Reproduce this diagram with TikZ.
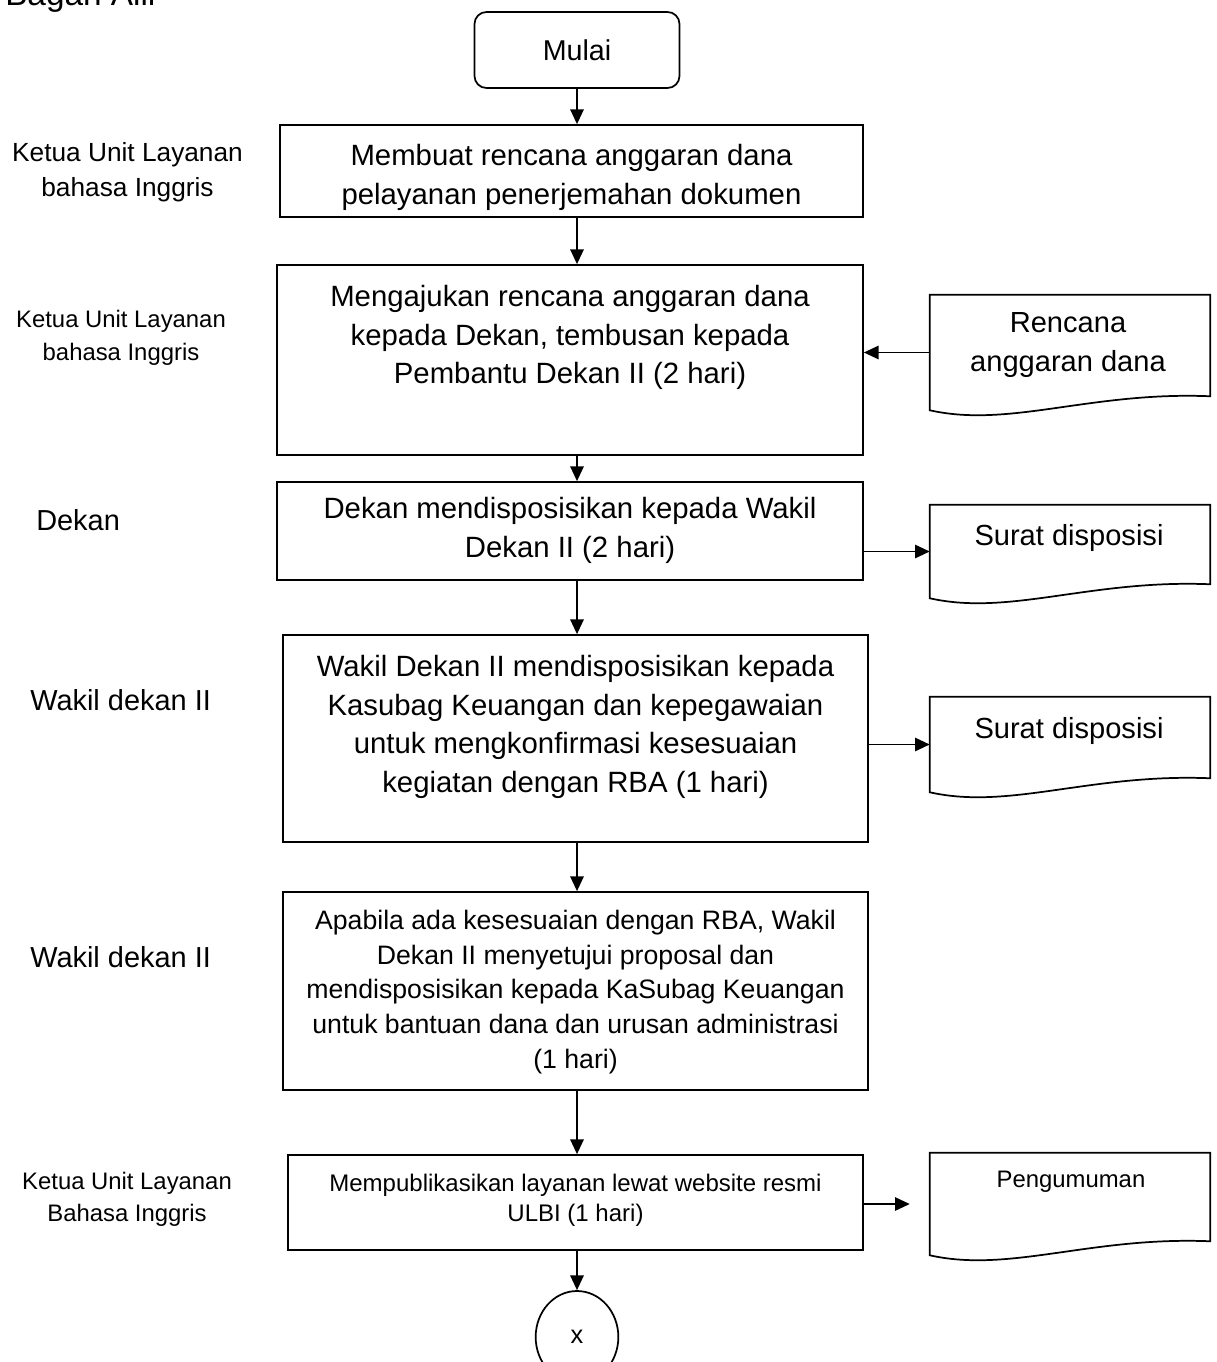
\documentclass[tikz,border=0pt]{standalone}
\usepackage{fontspec}
\setmainfont{Liberation Sans}
\usetikzlibrary{%
  arrows.meta,%
  calc,%
  fit,% boxes from corner points
  shapes.geometric% ellipse
}
\newcommand{\fsz}[2]{\fontsize{#1}{#2}\selectfont}
% document symbol drawn round a fit node
\newcommand{\docshape}[1]{%
  \draw[line width=1.3pt] (#1.south west) -- (#1.north west) -- (#1.north east)
    -- ($(#1.south east)+(0,-14)$)
    .. controls ($(#1.south east)+(-120,-19)$) and ($(#1.south west)+(80,18)$) .. (#1.south west)
    -- cycle;}

\begin{document}
\begin{tikzpicture}[x=0.75pt,y=-0.75pt,
    stepbox/.style={draw,line width=1.3pt,inner sep=0pt},
    startbox/.style={draw,line width=1.3pt,rounded corners=9pt,inner sep=0pt,
      minimum width=153.75pt,minimum height=57pt,font=\fsz{21.5}{26}},
    endmark/.style={draw,ellipse,line width=1.3pt,inner sep=0pt,
      minimum width=62pt,minimum height=69pt,font=\fsz{19}{23}},
    docnode/.style={inner sep=0pt},
    boxtext/.style={align=center,inner sep=0pt,anchor=north,font=\fsz{22}{29}},
    doctext/.style={align=center,inner sep=0pt,anchor=north,font=\fsz{21.8}{29.25}},
    role/.style={align=center,inner sep=0pt,anchor=north,font=\fsz{17.9}{24.75}},
    rolebig/.style={inner sep=0pt,anchor=north west,font=\fsz{21.7}{26}},
    flow/.style={-{Triangle[length=11pt,width=10pt]},line width=1.3pt}]
    \useasboundingbox (0,0) rectangle (1216,1362);

    %title, cut at the top
    \node[inner sep=0pt,anchor=base west,font=\fsz{25}{30}] (title) at (5,6) {Bagan Alir};

    %start
    \node[startbox] (mulai) at (577,50) {Mulai};

    %steps
    \node[stepbox,fit={(280,125) (863,217)}] (b1) {};
    \node[boxtext] (t1) at (571.5,144) {Membuat rencana anggaran dana\\pelayanan penerjemahan dokumen};

    \node[stepbox,fit={(277,265) (863,455)}] (b2) {};
    \node[boxtext] (t2) at (570,285) {Mengajukan rencana anggaran dana\\kepada Dekan, tembusan kepada\\Pembantu Dekan II (2 hari)};

    \node[stepbox,fit={(277,482) (863,580)}] (b3) {};
    \node[boxtext] (t3) at (570,497) {Dekan mendisposisikan kepada Wakil\\Dekan II (2 hari)};

    \node[stepbox,fit={(283,635) (868,842)}] (b4) {};
    \node[boxtext] (t4) at (575.5,655) {Wakil Dekan II mendisposisikan kepada\\Kasubag Keuangan dan kepegawaian\\untuk mengkonfirmasi kesesuaian\\kegiatan dengan RBA (1 hari)};

    \node[stepbox,fit={(283,892) (868,1090)}] (b5) {};
    \node[boxtext,font=\fsz{20}{26}] (t5) at (575.5,910) {Apabila ada kesesuaian dengan RBA, Wakil\\Dekan II menyetujui proposal dan\\mendisposisikan kepada KaSubag Keuangan\\untuk bantuan dana dan urusan administrasi\\(1 hari)};

    \node[stepbox,fit={(288,1155) (863,1250)}] (b6) {};
    \node[boxtext,font=\fsz{18}{22.5}] (t6) at (575.5,1174) {Mempublikasikan layanan lewat website resmi\\ULBI (1 hari)};

    %connector to next page
    \node[endmark] (xend) at (577,1337) {x};

    %documents
    \node[docnode,fit={(930,295) (1210,410)}] (d1) {};
    \docshape{d1}
    \node[doctext] (dt1) at (1068,312.5) {Rencana\\anggaran dana};

    \node[docnode,fit={(930,505) (1210,598)}] (d2) {};
    \docshape{d2}
    \node[doctext] (dt2) at (1069,524.5) {Surat disposisi};

    \node[docnode,fit={(930,697) (1210,792)}] (d3) {};
    \docshape{d3}
    \node[doctext] (dt3) at (1069,717.5) {Surat disposisi};

    \node[docnode,fit={(930,1153) (1210,1255)}] (d4) {};
    \docshape{d4}
    \node[doctext,font=\fsz{17.9}{22}] (dt4) at (1071,1171) {Pengumuman};

    %roles
    \node[role,font=\fsz{19.7}{26.25}] (lab1) at (127.5,142.5) {Ketua Unit Layanan\\bahasa Inggris};
    \node[role] (lab2) at (121,309.5) {Ketua Unit Layanan\\bahasa Inggris};
    \node[rolebig] (lab3) at (36,509.5) {Dekan};
    \node[rolebig] (lab4) at (30,689.5) {Wakil dekan II};
    \node[rolebig] (lab5) at (30,946.5) {Wakil dekan II};
    \node[role,font=\fsz{17.9}{24}] (lab6) at (127,1172) {Ketua Unit Layanan\\Bahasa Inggris};

    %main flow
    \draw[flow] (mulai.south) -- (mulai.south |- b1.north);
    \draw[flow] (b1.south -| mulai) -- (b2.north -| mulai);
    \draw[flow] (b2.south -| mulai) -- (b3.north -| mulai);
    \draw[flow] (b3.south -| mulai) -- (b4.north -| mulai);
    \draw[flow] (b4.south -| mulai) -- (b5.north -| mulai);
    \draw[flow] (b5.south -| mulai) -- (b6.north -| mulai);
    \draw[flow] (b6.south -| xend) -- (xend.north);

    %documents in and out
    \draw[flow] (d1.west) -- (d1.west -| b2.east);
    \draw[flow] (b3.east |- d2.west) -- (d2.west);
    \draw[flow] (b4.east |- d3.west) -- (d3.west);
    \draw[flow] (b6.east |- d4.west) -- ($(d4.west)+(-20,0)$);
\end{tikzpicture}
\end{document}
